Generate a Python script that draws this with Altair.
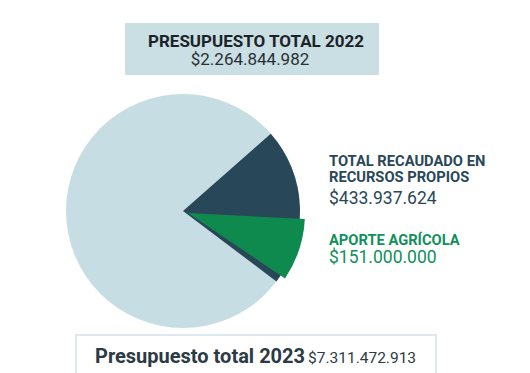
import math
import altair as alt
import pandas as pd

# ---- data ----
categories = ["Resto del presupuesto", "Total recaudado en recursos propios", "Aporte agrícola"]
slice_start_deg = [0, 48.6, 93.0]     # angles measured clockwise from 12 o'clock
slice_end_deg = [360, 127.0, 124.0]
slice_colors = ["#c6dee3", "#284758", "#0e8a4f"]

title_2022 = "PRESUPUESTO TOTAL 2022"
value_2022 = "$2.264.844.982"
label_propios = ["TOTAL RECAUDADO EN", "RECURSOS PROPIOS"]
value_propios = "$433.937.624"
label_agricola = "APORTE AGRÍCOLA"
value_agricola = "$151.000.000"
title_2023 = "Presupuesto total 2023"
value_2023 = "$7.311.472.913"

FONT = "Roboto"
DARK_TXT = "#1c2328"
SLATE_TXT = "#284758"
GREEN_TXT = "#10905a"

pie_df = pd.DataFrame({"cat": categories, "start": slice_start_deg, "end": slice_end_deg})
theta_scale = alt.Scale(domain=[0, 360], range=[0, 2 * math.pi])
color_scale = alt.Scale(domain=categories, range=slice_colors)

CX, CY, R = 175, 203, 117


def arc_layer(cat, cx, cy):
    return (
        alt.Chart(pie_df)
        .transform_filter(alt.datum.cat == cat)
        .mark_arc(outerRadius=R)
        .encode(
            theta=alt.Theta("start:Q", scale=theta_scale, stack=None),
            theta2="end:Q",
            color=alt.Color("cat:N", scale=color_scale, legend=None),
            x=alt.value(cx),
            y=alt.value(cy),
        )
    )


one = pd.DataFrame({"k": [0]})


def text_layer(txt, x, y, size, color, weight="normal", align="left"):
    return (
        alt.Chart(one)
        .mark_text(font=FONT, fontSize=size, fontWeight=weight, color=color,
                   align=align, baseline="alphabetic")
        .encode(x=alt.value(x), y=alt.value(y), text=alt.value(txt))
    )


top_box = alt.Chart(one).mark_rect(color="#c9dfe3").encode(
    x=alt.value(117), x2=alt.value(371), y=alt.value(15), y2=alt.value(67)
)
bottom_box = alt.Chart(one).mark_rect(fill="white", stroke="#d3e2e6", strokeWidth=1.5).encode(
    x=alt.value(68), x2=alt.value(428), y=alt.value(327), y2=alt.value(380)
)

layers = [
    arc_layer(categories[0], CX, CY),
    arc_layer(categories[1], CX, CY),
    arc_layer(categories[2], CX + 5, CY + 2),
    top_box,
    text_layer(title_2022, 248, 39, 17, DARK_TXT, "bold", "center"),
    text_layer(value_2022, 242, 57, 17, "#2a2f33", "normal", "center"),
    text_layer(label_propios[0], 321, 158, 14.7, SLATE_TXT, "bold"),
    text_layer(label_propios[1], 321, 174, 14.7, SLATE_TXT, "bold"),
    text_layer(value_propios, 321, 196, 17.5, SLATE_TXT),
    text_layer(label_agricola, 321, 237, 14.7, GREEN_TXT, "bold"),
    text_layer(value_agricola, 321, 254.5, 17.5, GREEN_TXT),
    bottom_box,
    text_layer(title_2023, 87, 355, 20, "#2b3a44", "bold"),
    text_layer(value_2023, 300, 355, 15.5, "#2b3a44"),
]

chart = (
    alt.layer(*layers)
    .properties(width=514, height=372, autosize="none", padding=0, background="white")
    .configure_view(stroke=None)
)

chart.save("out.html", embed_options={"renderer": "svg", "actions": False})
